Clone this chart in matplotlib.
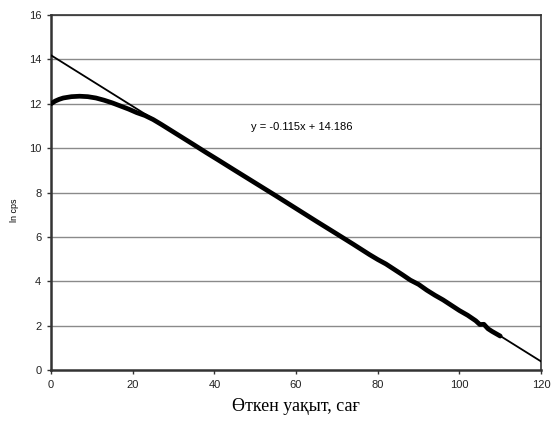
import matplotlib
matplotlib.use("Agg")
import matplotlib.pyplot as plt
import numpy as np

# Measured ln(cps) versus elapsed time
time_h = [0, 1, 2, 3, 5, 7, 9, 11, 13, 15, 17, 19, 21, 23, 25, 27, 29, 31, 33, 35,
          38, 41, 45, 50, 55, 60, 65, 70, 74, 78, 80, 82, 84, 86, 88, 90, 92, 94,
          96, 98, 100, 102, 104, 105, 106, 107, 108, 110]
ln_cps = [12.0, 12.12, 12.2, 12.26, 12.32, 12.34, 12.32, 12.26, 12.16, 12.04, 11.9, 11.76,
          11.6, 11.47, 11.29, 11.07, 10.84, 10.61, 10.38, 10.15, 9.8, 9.46, 9.0, 8.43,
          7.86, 7.28, 6.7, 6.13, 5.67, 5.2, 4.98, 4.78, 4.54, 4.3, 4.05, 3.86, 3.6,
          3.37, 3.16, 2.92, 2.68, 2.47, 2.22, 2.05, 2.06, 1.86, 1.74, 1.53]

# Linear fit: y = -0.115x + 14.186
slope = -0.115
intercept = 14.186
fit_x = [0, 120]
fit_y = [intercept + slope * v for v in fit_x]

x_ticks = [0, 20, 40, 60, 80, 100, 120]
y_ticks = [0, 2, 4, 6, 8, 10, 12, 14, 16]

fig = plt.figure(figsize=(5.51, 4.29), dpi=100)
ax = fig.add_axes([0.0926, 0.1375, 0.8894, 0.8275])

ax.set_xlim(0, 120)
ax.set_ylim(0, 16)
ax.set_xticks(x_ticks)
ax.set_yticks(y_ticks)
for t in y_ticks[1:]:
    ax.axhline(t, color="#8a8a8a", lw=1.0, zorder=1)

ax.plot(time_h, ln_cps, color="black", lw=3.4, solid_capstyle="round", zorder=3)
ax.plot(fit_x, fit_y, color="black", lw=1.3, zorder=4)

ax.text(61.5, 10.95, "y = -0.115x + 14.186", fontsize=8, ha="center", va="center",
        family="Liberation Sans")

for s in ax.spines.values():
    s.set_color("#333333")
    s.set_linewidth(1.2)
ax.spines["left"].set_linewidth(1.8)
ax.spines["bottom"].set_linewidth(1.8)

ax.tick_params(axis="both", direction="out", length=3, width=1, color="#333333",
               labelsize=8, pad=4, labelcolor="#222222")
for lab in ax.get_xticklabels() + ax.get_yticklabels():
    lab.set_family("Liberation Sans")

ax.set_ylabel("ln cps", fontsize=6.5, family="Liberation Sans", labelpad=7)
ax.yaxis.set_label_coords(-0.065, 0.45)
ax.set_xlabel("Өткен уақыт, сағ", fontsize=13,
              family=["Liberation Serif", "DejaVu Serif"], labelpad=6)

fig.savefig("out.png", dpi=100)
